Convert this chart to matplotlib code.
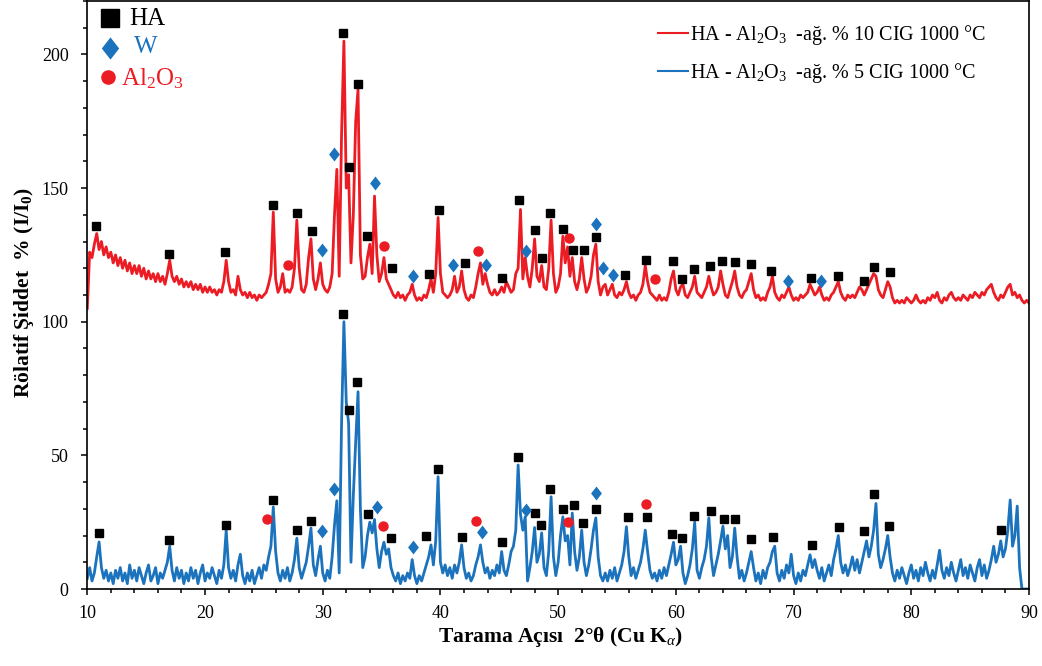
import numpy as np
import matplotlib
matplotlib.use("Agg")
import matplotlib.pyplot as plt
from matplotlib.ticker import MultipleLocator
from matplotlib.lines import Line2D

plt.rcParams["font.family"] = ["Liberation Serif", "DejaVu Serif"]
plt.rcParams["mathtext.fontset"] = "custom"
plt.rcParams["mathtext.rm"] = "Liberation Serif"
plt.rcParams["mathtext.it"] = "Liberation Serif:italic"
plt.rcParams["mathtext.bf"] = "Liberation Serif:bold"

# XRD scan: 2-theta from 10 to 90 degrees, 0.2 degree step
scan_start = 10.0
scan_step = 0.2

# HA - Al2O3 - 10 wt% CIG, 1000 C (relative intensity, offset pattern)
red_intensity = [
    105, 126, 124, 129, 133, 127, 130, 125, 128, 124,
    126, 122, 125, 121, 124, 120, 123, 119, 122, 118,
    121, 118, 121, 117, 120, 116, 119, 116, 118, 115,
    118, 115, 117, 114, 118, 123, 117, 115, 117, 114,
    116, 113, 115, 113, 115, 112, 114, 112, 114, 111,
    113, 111, 113, 111, 112, 110, 112, 111, 115, 123,
    115, 111, 112, 110, 117, 112, 110, 111, 109, 111,
    109, 110, 108, 110, 109, 110, 111, 114, 118, 141,
    116, 111, 113, 118, 111, 112, 111, 113, 120, 138,
    120, 112, 111, 114, 124, 131, 116, 112, 116, 122,
    114, 112, 111, 113, 118, 140, 157, 117, 170, 205,
    150, 155, 122, 140, 175, 187, 125, 116, 117, 124,
    129, 118, 147, 125, 115, 118, 124, 116, 114, 112,
    110, 109, 111, 109, 110, 108, 110, 111, 114, 110,
    108, 109, 108, 110, 109, 112, 116, 111, 118, 139,
    118, 111, 110, 109, 110, 112, 117, 111, 113, 119,
    112, 109, 108, 110, 109, 113, 118, 122, 114, 118,
    114, 111, 110, 112, 110, 111, 113, 111, 115, 113,
    111, 112, 118, 120, 142, 116, 124, 117, 113, 120,
    131, 117, 115, 121, 113, 112, 120, 138, 118, 111,
    113, 118, 132, 122, 128, 117, 124, 115, 112, 116,
    124, 116, 111, 113, 117, 125, 129, 115, 110, 113,
    114, 110, 112, 114, 110, 109, 111, 110, 112, 115,
    111, 109, 110, 108, 110, 111, 114, 121, 115, 111,
    110, 109, 108, 110, 108, 109, 108, 111, 116, 119,
    112, 110, 113, 114, 110, 109, 111, 113, 117, 111,
    110, 109, 111, 113, 117, 113, 110, 111, 113, 119,
    114, 110, 109, 112, 115, 119, 113, 110, 109, 111,
    112, 115, 118, 112, 109, 110, 108, 109, 108, 111,
    113, 117, 111, 109, 108, 110, 109, 111, 113, 110,
    108, 109, 108, 110, 109, 110, 111, 114, 112, 110,
    111, 113, 110, 108, 109, 108, 110, 111, 113, 115,
    111, 109, 108, 110, 109, 110, 109, 111, 113, 112,
    110, 112, 114, 116, 118, 117, 112, 110, 109, 112,
    115, 113, 109, 107, 108, 107, 108, 107, 109, 108,
    107, 108, 110, 108, 107, 108, 107, 109, 108, 110,
    109, 111, 108, 107, 109, 108, 110, 111, 109, 108,
    109, 108, 110, 109, 108, 110, 109, 111, 110, 109,
    111, 110, 112, 113, 114, 111, 109, 108, 110, 109,
    111, 113, 114, 110, 111, 109, 110, 108, 107, 108,
    107,
]

# HA - Al2O3 - 5 wt% CIG, 1000 C (relative intensity)
blue_intensity = [
    4, 8, 3, 6, 12, 17.6, 8, 4, 7, 3,
    6, 2, 7, 4, 8, 3, 6, 2, 9, 4,
    7, 3, 8, 5, 2, 6, 9, 3, 5, 8,
    2, 6, 4, 7, 10, 16, 7, 3, 8, 4,
    7, 2, 6, 3, 8, 4, 7, 2, 6, 9,
    3, 6, 4, 8, 5, 2, 7, 4, 9, 22,
    8, 4, 7, 3, 9, 13, 5, 2, 6, 3,
    7, 2, 5, 8, 4, 9, 7, 12, 16, 30.7,
    14, 6, 3, 7, 4, 8, 3, 6, 11, 19,
    8, 4, 7, 10, 16, 22.8, 9, 5, 11, 16,
    6, 3, 7, 4, 12, 24, 33, 6, 62, 100,
    70, 62, 10, 35, 55, 73.8, 30, 8, 12, 20,
    25, 21, 26, 15, 8, 14, 17.5, 13, 15, 8,
    5, 3, 6, 2, 5, 3, 6, 4, 11, 5,
    2, 5, 3, 6, 9, 12, 16.5, 9, 18, 42,
    10, 6, 9, 5, 8, 4, 9, 6, 10, 16.5,
    8, 4, 6, 3, 5, 9, 12, 16.5, 10, 6,
    8, 4, 7, 5, 9, 6, 14, 7, 5, 9,
    14, 16, 22, 46.4, 28, 22, 27, 3, 8, 14,
    23, 10, 13, 21, 8, 5, 14, 34.5, 12, 5,
    10, 20, 27, 18, 20, 9, 28.4, 14, 7, 12,
    22, 10, 5, 9, 15, 22, 26.6, 12, 5, 3,
    6, 3, 7, 4, 8, 3, 6, 9, 14, 23.3,
    12, 5, 8, 4, 7, 10, 15, 22, 14, 7,
    4, 6, 3, 7, 4, 8, 5, 9, 13, 17.5,
    9, 11, 16, 6, 2, 5, 9, 15, 25, 7,
    4, 8, 11, 16, 26.6, 12, 5, 9, 13, 18,
    23.5, 15, 20, 8, 12, 22.8, 12, 4, 7, 3,
    6, 10, 14, 8, 3, 6, 2, 7, 4, 8,
    10, 14, 16, 6, 3, 7, 4, 9, 6, 13,
    5, 2, 6, 3, 7, 5, 9, 12.8, 8, 11,
    7, 4, 8, 3, 6, 9, 5, 11, 15, 20,
    10, 6, 9, 5, 8, 12, 7, 11, 6, 10,
    14, 18, 12, 16, 22, 32, 13, 8, 11, 15,
    20, 12, 6, 3, 7, 4, 8, 5, 2, 6,
    9, 4, 7, 3, 8, 5, 10, 6, 3, 7,
    4, 9, 14.5, 7, 4, 8, 5, 10, 6, 3,
    7, 11, 5, 8, 4, 9, 6, 3, 8, 11,
    5, 9, 4, 7, 11, 16, 10, 13, 18, 12,
    15, 22, 33.3, 16, 20, 31, 8, 0, 0, 0,
    0,
]

# Phase identification marks (2-theta, label height) for the 10% CIG pattern
red_ha_x = [10.74, 16.97, 21.74, 25.78, 27.78, 29.08, 31.70, 32.27, 33.00, 33.73,
            35.88, 39.04, 39.89, 42.09, 45.25, 46.66, 48.02, 48.67, 49.34, 50.41,
            51.24, 52.17, 53.18, 55.72, 57.47, 59.75, 60.55, 61.57, 62.89, 63.88,
            65.06, 66.36, 68.11, 71.50, 73.76, 75.96, 76.86, 78.19]
red_ha_y = [135.7, 125.5, 126.0, 143.8, 140.7, 133.8, 208.0, 158.0, 189.0, 132.2,
            120.0, 118.0, 141.7, 122.0, 116.4, 145.4, 134.5, 123.8, 140.7, 134.8,
            127.0, 127.0, 131.7, 117.5, 123.2, 122.8, 116.0, 119.7, 121.0, 122.8,
            122.3, 121.6, 119.1, 116.4, 117.2, 115.1, 120.3, 118.6]
red_w_x = [29.93, 30.94, 34.44, 37.69, 41.08, 43.90, 47.28, 53.20, 53.80, 54.62, 69.53, 72.35]
red_w_y = [126.7, 162.8, 151.9, 117.2, 121.2, 121.2, 126.6, 136.7, 120.0, 117.3, 115.4, 115.4]
red_al_x = [27.05, 35.20, 43.19, 50.90, 58.23]
red_al_y = [121.3, 128.5, 126.6, 131.3, 116.0]

# Phase identification marks for the 5% CIG pattern
blue_ha_x = [10.96, 16.97, 21.82, 25.78, 27.78, 28.97, 31.70, 32.21, 32.92, 33.85,
             35.77, 38.79, 39.77, 41.80, 45.27, 46.58, 48.02, 48.58, 49.31, 50.39,
             51.35, 52.08, 53.18, 55.91, 57.55, 59.65, 60.55, 61.57, 62.95, 64.07,
             65.06, 66.36, 68.25, 71.55, 73.84, 75.96, 76.86, 78.08, 87.60]
blue_ha_y = [21.1, 18.4, 23.9, 33.2, 21.9, 25.6, 102.9, 66.8, 77.4, 28.0,
             19.1, 19.9, 44.9, 19.5, 17.5, 49.4, 28.3, 23.9, 37.3, 30.0,
             31.6, 24.8, 30.0, 27.1, 26.9, 20.6, 19.1, 27.5, 29.1, 26.3,
             26.3, 18.6, 19.5, 16.6, 23.1, 21.6, 35.7, 23.5, 21.9]
blue_w_x = [29.90, 30.94, 34.60, 37.63, 43.50, 47.26, 53.20]
blue_w_y = [21.8, 37.3, 30.6, 15.6, 21.2, 29.5, 36.0]
blue_al_x = [25.27, 35.11, 43.02, 50.81, 57.47]
blue_al_y = [26.2, 23.6, 25.6, 25.2, 31.7]

series_labels = [
    r"HA - Al$_2$O$_3$  -ağ. % 10 CIG 1000 °C",
    r"HA - Al$_2$O$_3$  -ağ. % 5 CIG 1000 °C",
]
phase_labels = ["HA", "W", r"Al$_2$O$_3$"]

RED = "#ec1c24"
BLUE = "#1b72bd"
DIAMOND = [(0, 1), (0.78, 0), (0, -1), (-0.78, 0), (0, 1)]

two_theta = scan_start + scan_step * np.arange(len(red_intensity))

fig = plt.figure(figsize=(10.42, 6.66), dpi=100, facecolor="white")
ax = fig.add_axes([87.3 / 1042, 77 / 666, 941.7 / 1042, 588 / 666])

ax.plot(two_theta, blue_intensity, color=BLUE, lw=2.0, zorder=2)
ax.plot(two_theta, red_intensity, color=RED, lw=2.0, zorder=2)

for xs, ys in ((red_ha_x, red_ha_y), (blue_ha_x, blue_ha_y)):
    ax.plot(xs, ys, ls="none", marker="s", ms=6, color="black", zorder=4)
for xs, ys in ((red_w_x, red_w_y), (blue_w_x, blue_w_y)):
    ax.plot(xs, ys, ls="none", marker=DIAMOND, ms=10, color=BLUE, mec="none", zorder=4)
for xs, ys in ((red_al_x, red_al_y), (blue_al_x, blue_al_y)):
    ax.plot(xs, ys, ls="none", marker="o", ms=7.5, color=RED, mec="none", zorder=4)

# Phase key in the upper-left corner
ax.plot([11.93], [213.5], marker="s", ms=13, color="black", ls="none")
ax.text(13.6, 211, phase_labels[0], fontsize=18, color="black", va="baseline", ha="left")
ax.plot([11.93], [202.5], marker=DIAMOND, ms=16, color=BLUE, mec="none", ls="none")
ax.text(14.0, 200.5, phase_labels[1], fontsize=18, color=BLUE, va="baseline", ha="left")
ax.plot([11.76], [191.5], marker="o", ms=10.5, color=RED, mec="none", ls="none")
ax.text(12.9, 188.6, phase_labels[2], fontsize=18, color=RED, va="baseline", ha="left")

handles = [Line2D([], [], color=RED, lw=1.5), Line2D([], [], color=BLUE, lw=1.5)]
ax.legend(handles, series_labels, loc="upper left", bbox_to_anchor=(0.606, 0.963),
          frameon=False, fontsize=14.5, handlelength=1.5, handletextpad=0.1,
          borderpad=0, borderaxespad=0, labelspacing=0.7)

ax.set_xlim(10, 90)
ax.set_ylim(0, 220)
ax.xaxis.set_major_locator(MultipleLocator(10))
ax.xaxis.set_minor_locator(MultipleLocator(2))
ax.yaxis.set_major_locator(MultipleLocator(50))
ax.yaxis.set_minor_locator(MultipleLocator(10))
ax.tick_params(which="both", direction="out", top=False, right=False, width=1.1,
               labelsize=13, color="black")
ax.tick_params(which="major", length=4.5)
ax.tick_params(which="minor", length=3)
ax.tick_params(axis="x", pad=7)
ax.tick_params(axis="y", pad=9)
for s in ax.spines.values():
    s.set_linewidth(1.2)
    s.set_color("black")

ax.set_xlabel(r"Tarama Açısı  2°θ (Cu K$_\alpha$)", fontsize=15.5, fontweight="bold")
ax.set_ylabel(r"Rölatif Şiddet  % (I/I$_\mathbf{0}$)", fontsize=15.5, fontweight="bold")
ax.xaxis.set_label_coords(0.502, -0.062)
ax.yaxis.set_label_coords(-0.054, 0.505)

fig.savefig("out.png", dpi=100, facecolor="white")
